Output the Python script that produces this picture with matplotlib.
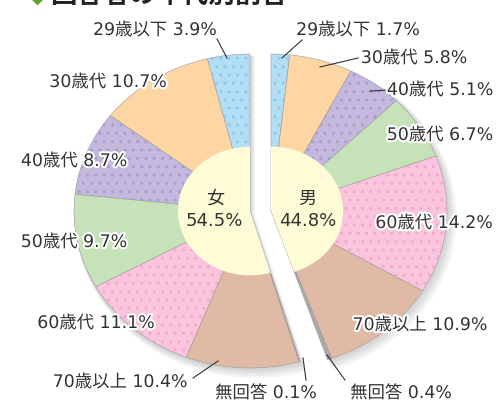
import numpy as np
import matplotlib.pyplot as plt
import matplotlib.patheffects as pe

# DejaVu first for the wider digits, CJK glyphs fall through to Noto
plt.rcParams['font.family'] = ['DejaVu Sans', 'Noto Sans CJK JP']

# data
ages = ['29歳以下', '30歳代', '40歳代', '50歳代', '60歳代', '70歳以上', '無回答']
women = [3.9, 10.7, 8.7, 9.7, 11.1, 10.4, 0.1]
men = [1.7, 5.8, 5.1, 6.7, 14.2, 10.9, 0.4]
women_total = 54.5
men_total = 44.8

colors = ['#b3def4', '#fdd6a4', '#c4b8dd', '#c6e2b9', '#f9c4dc', '#e0baa4', '#a9a9a9']
dots = ['#8ccbee', None, '#ab9ccd', None, '#f2a8ca', None, None]
cream = '#fefcd7'

W, H = 497, 403
cx_w, cx_m, cy = 250, 271, 211     # pixel centres of the two halves
rx, ry = 176, 157                  # outer radii in px (the pie is a bit wide)
x0 = (cx_w + cx_m) / 2

fig = plt.figure(figsize=(W / 100, H / 100), dpi=100)
ax = fig.add_axes([0, 0, 1, 1])
off = (cx_m - x0) / rx

def halves(vals, ccw, center, **kw):
    return ax.pie(np.array(vals) / 100, normalize=False, startangle=90,
                  counterclock=ccw, center=center, **kw)

# soft shadow
for k in range(1, 6):
    for vals, ccw, c in [(women, True, -off), (men, False, off)]:
        halves([sum(vals)], ccw, (c + k * 0.006, -k * 0.008), radius=1 + k * 0.005,
               colors=['#000000'], wedgeprops=dict(alpha=0.035, linewidth=0))

for vals, ccw, c in [(women, True, -off), (men, False, off)]:
    halves(vals, ccw, (c, 0), radius=1, colors=colors,
           wedgeprops=dict(edgecolor='#9c9c9c', linewidth=0.4))
    wedges, _ = halves(vals, ccw, (c, 0), radius=1, colors=colors,
                       wedgeprops=dict(facecolor='none', linewidth=0))
    for w, d in zip(wedges, dots):
        if d:
            w.set_hatch('..')
            w.set_edgecolor(d)
        else:
            w.set_visible(False)
    halves([sum(vals)], ccw, (c, 0), radius=0.41, colors=[cream],
           wedgeprops=dict(linewidth=0))

ax.set_xlim(-x0 / rx, (W - x0) / rx)
ax.set_ylim((cy - H) / ry, cy / ry)
ax.set_aspect('auto')
ax.axis('off')

# text layer in pixel coordinates
tx = fig.add_axes([0, 0, 1, 1], facecolor='none')
tx.set_xlim(0, W)
tx.set_ylim(H, 0)
tx.axis('off')

halo = [pe.withStroke(linewidth=3, foreground='white')]
fs = 12.5

w_pos = [(155, 30), (108, 82), (74, 161), (74, 242), (96, 323), (120, 382), (266, 393)]
m_pos = [(358, 30), (414, 58), (440, 90), (440, 135), (434, 223), (420, 325), (401, 393)]
for vals, pos in [(women, w_pos), (men, m_pos)]:
    for name, v, (x, y) in zip(ages, vals, pos):
        tx.text(x, y, f'{name} {v}%', ha='center', va='center', fontsize=fs,
                color='#333333', path_effects=halo)

leaders = [((217, 39), (227, 58)), ((193, 378), (218, 361)), ((306, 380), (303, 358)),
           ((302, 40), (282, 58)), ((358, 58), (320, 67)), ((388, 90), (370, 91)),
           ((345, 380), (327, 355))]
for (a, b) in leaders:
    tx.plot([a[0], b[0]], [a[1], b[1]], color='#333333', lw=0.8)

tx.text(215, 199, '女', ha='center', va='center', fontsize=13, color='#333333')
tx.text(214, 221, f'{women_total}%', ha='center', va='center', fontsize=13, color='#333333')
tx.text(307, 199, '男', ha='center', va='center', fontsize=13, color='#333333')
tx.text(308, 221, f'{men_total}%', ha='center', va='center', fontsize=13, color='#333333')

# title, mostly cut off at the top edge
tx.text(30, 7, '◆', ha='left', va='bottom', fontsize=14, color='#5fa32e')
tx.text(50, 9, '回答者の年代別割合', ha='left', va='bottom', fontsize=19,
        color='#222222', fontweight='bold')

fig.savefig('out.png', dpi=100)
